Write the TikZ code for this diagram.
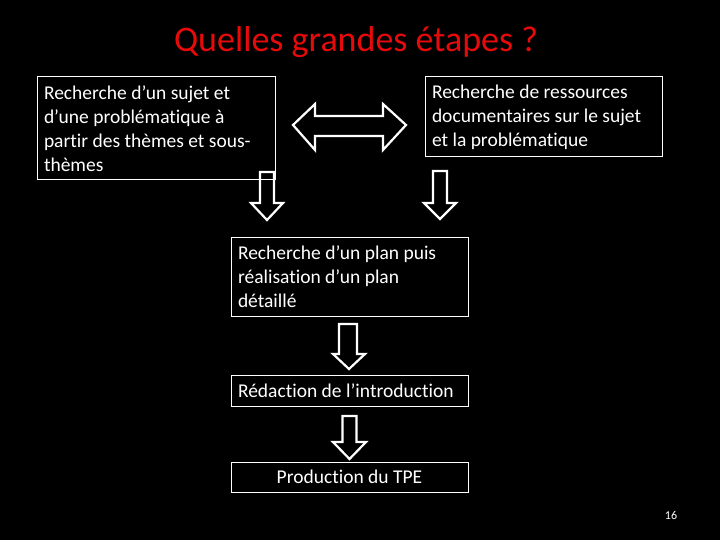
\documentclass[tikz,border=0pt]{standalone}
\usepackage{fontspec}
\setmainfont{Carlito}[Ligatures=NoCommon]
\definecolor{titlered}{RGB}{230,10,10}
\begin{document}
\begin{tikzpicture}[x=1pt,y=-1pt,
  box/.style={draw=white, line width=1pt, text=white,
    font=\fontsize{19.5}{24}\selectfont, inner xsep=7pt, inner ysep=0pt,
    align=flush left, text width=#1},
  blockarrow/.style={draw=white, line width=2.2pt, line join=miter}]
\useasboundingbox[fill=black] (0,0) rectangle (720,540);

\node[text=titlered, font=\fontsize{36}{42}\selectfont] (title) at (356,42) {Quelles grandes étapes ?};

\node[box=224pt, minimum height=103pt] (b1) at (156,128.5)
  {Recherche d’un sujet et\\d’une problématique à\\partir des thèmes et sous-\\thèmes};
\node[box=223pt, minimum height=80pt] (b2) at (543.5,117)
  {Recherche de ressources\\documentaires sur le sujet\\et la problématique};
\node[box=223pt, minimum height=79pt] (b3) at (349.5,276.5)
  {Recherche d’un plan puis\\réalisation d’un plan\\détaillé};
\node[box=223pt, minimum height=31pt] (b4) at (349.5,390.5)
  {Rédaction de l’introduction};
\node[box=223pt, minimum height=30pt, align=flush center] (b5) at (349.5,477)
  {Production du TPE};

% double arrow between b1 and b2
\draw[blockarrow] (293,125) -- (315,104) -- (315,116) -- (383,116) -- (383,104)
  -- (406,125) -- (383,150) -- (383,136) -- (315,136) -- (315,150) -- cycle;

% down arrows
\draw[blockarrow] (260,172) -- (274,172) -- (274,203) -- (283,203) -- (267,220)
  -- (251,203) -- (260,203) -- cycle;
\draw[blockarrow] (433,171) -- (447,171) -- (447,203) -- (456,203) -- (440,219)
  -- (424,203) -- (433,203) -- cycle;
\draw[blockarrow] (339,324) -- (357,324) -- (357,354) -- (365,354) -- (349,369)
  -- (333,354) -- (339,354) -- cycle;
\draw[blockarrow] (342.5,416) -- (356.5,416) -- (356.5,442) -- (366,442) -- (349.5,459)
  -- (333,442) -- (342.5,442) -- cycle;

\node[text=white, font=\fontsize{12}{14}\selectfont] (page) at (671,515) {16};
\end{tikzpicture}
\end{document}
